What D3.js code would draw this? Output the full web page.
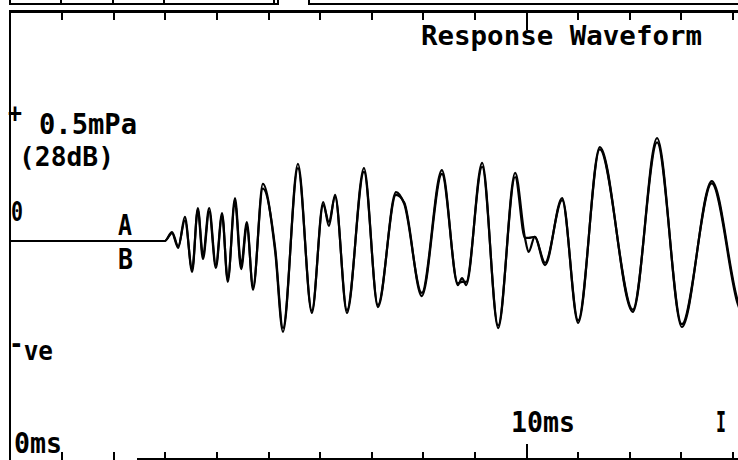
<!DOCTYPE html>
<html>
<head>
<meta charset="utf-8">
<script src="https://cdn.jsdelivr.net/npm/d3@7"></script>
<style>
html, body { margin: 0; padding: 0; background: #fff; }
svg { display: block; }
text { font-family: "DejaVu Sans Mono", monospace; font-weight: bold; fill: #000; }
</style>
</head>
<body>
<svg id="chart" width="738" height="460"></svg>
<script>
// time axis (ms) shared by both traces
const timeMs = [0, 3.00, 3.14, 3.26, 3.39, 3.53, 3.64, 3.74, 3.86, 3.99, 4.11, 4.22, 4.36, 4.48, 4.59, 4.71,
  4.90, 5.14, 5.29, 5.58, 5.85, 6.07, 6.18, 6.30, 6.53, 6.86, 7.13, 7.48, 7.64, 7.98, 8.37, 8.68, 8.76, 8.84,
  9.15, 9.46, 9.79, 9.98, 10.05, 10.17, 10.37, 10.70, 11.01, 11.43, 12.07, 12.54, 13.02, 13.60, 14.11, 14.30];

// trace A / trace B pressure (mPa)
const traceA = [0, 0, 0.031, -0.027, 0.094, -0.121, 0.129, -0.055, 0.129, -0.094, 0.109, -0.160, 0.168, -0.094, 0.074, -0.191,
  0.223, -0.043, -0.355, 0.301, -0.281, 0.152, 0.059, 0.180, -0.281, 0.285, -0.258, 0.191, 0.145, -0.203, 0.277, -0.172, -0.145, -0.172,
  0.305, -0.340, 0.266, 0.012, -0.043, 0.016, -0.094, 0.168, -0.320, 0.367, -0.277, 0.402, -0.336, 0.234, -0.238, -0.330];
const traceB = [0, 0, 0.035, -0.020, 0.080, -0.110, 0.121, -0.070, 0.115, -0.105, 0.100, -0.150, 0.150, -0.110, 0.060, -0.180,
  0.205, -0.030, -0.340, 0.285, -0.272, 0.140, 0.075, 0.172, -0.270, 0.270, -0.250, 0.180, 0.150, -0.215, 0.262, -0.165, -0.160, -0.160,
  0.290, -0.330, 0.250, 0.012, 0.012, 0.016, -0.085, 0.160, -0.310, 0.358, -0.268, 0.385, -0.325, 0.225, -0.250, -0.330];

const tickMs = [1, 2, 3, 4, 5, 6, 7, 8, 9, 10, 11, 12, 13, 14];
const title = 'Response Waveform';
const scaleLabel = ['0.5mPa', '(28dB)'];
const scaleTop = 0.5;     // "+" marker level
const scaleBottom = -0.4; // "-ve" marker level

const W = 738, H = 460;
const svg = d3.select('#chart');

const x = d3.scaleLinear().domain([0, 14]).range([10, 10 + 14 * 51.6]);
const y = d3.scaleLinear().domain([-0.5, 0.5]).range([241 + 128, 241 - 128]);

// frame: strip of the upper panel, plot top, left edge, partial bottom line
const frame = svg.append('g').attr('stroke', '#000').attr('fill', 'none').attr('shape-rendering', 'crispEdges');
frame.append('path').attr('stroke-width', 2)
  .attr('d', 'M10,0V4H278V0M61,0V4M113,0V4M164,0V4M274,0V4M309,0V4H738');
frame.append('line').attr('x1', 10).attr('x2', W).attr('y1', 11).attr('y2', 11).attr('stroke-width', 3);
frame.append('line').attr('x1', 10).attr('x2', 10).attr('y1', 10).attr('y2', H).attr('stroke-width', 2);
frame.append('line').attr('x1', 137).attr('x2', W).attr('y1', 459).attr('y2', 459).attr('stroke-width', 2);

// ms ticks top and bottom
const styleTicks = (g, long) => {
  g.select('.domain').remove();
  g.selectAll('.tick line').attr('stroke', '#000').attr('stroke-width', 2).attr('shape-rendering', 'crispEdges')
    .filter(d => d === 10).attr('y2', long);
};
svg.append('g').attr('transform', 'translate(0,12)')
  .call(d3.axisBottom(x).tickValues(tickMs).tickSize(8).tickFormat(''))
  .call(g => styleTicks(g, 18));
svg.append('g').attr('transform', 'translate(0,460)')
  .call(d3.axisTop(x).tickValues(tickMs).tickSize(8).tickFormat(''))
  .call(g => styleTicks(g, -16));

// waveforms
const line = (vals) => d3.line()
  .x((d, i) => x(timeMs[i]))
  .y(d => y(d))
  .curve(d3.curveMonotoneX)(vals);

svg.append('defs').append('clipPath').attr('id', 'plot')
  .append('rect').attr('x', 10).attr('y', 12).attr('width', W - 10).attr('height', 440);

const waves = svg.append('g').attr('clip-path', 'url(#plot)')
  .attr('fill', 'none').attr('stroke', '#000').attr('stroke-width', 2.2).attr('stroke-linejoin', 'round');
waves.append('path').attr('d', line(traceA));
waves.append('path').attr('d', line(traceB));

// labels
function label(txt, px, py, size, len) {
  const t = svg.append('text').attr('x', px).attr('y', py).attr('font-size', size).text(txt);
  if (len) t.attr('textLength', len).attr('lengthAdjust', 'spacingAndGlyphs');
  return t;
}

label(title, 421, 45, 26, 281);
label('+', 8, y(scaleTop) + 9, 26, 14);
label(scaleLabel[0], 39, 134, 28, 98);
label(scaleLabel[1], 19, 166, 26, 95);
label('0', 11, y(0) - 20, 27, 12);
label('A', 118, y(0) - 6, 29, 14);
label('B', 118, y(0) + 28, 29, 15);

const ve = svg.append('text').attr('x', 9).attr('y', y(scaleBottom) + 17).attr('font-size', 27)
  .attr('textLength', 44).attr('lengthAdjust', 'spacingAndGlyphs');
ve.append('tspan').attr('dy', -7).text('-');
ve.append('tspan').attr('dy', 7).text('ve');

label('0ms', x(0) + 4, 453, 29, 48);
label('10ms', x(10) - 15, 432, 29, 64);
label('I', 716, 432, 29, 10);
</script>
</body>
</html>
